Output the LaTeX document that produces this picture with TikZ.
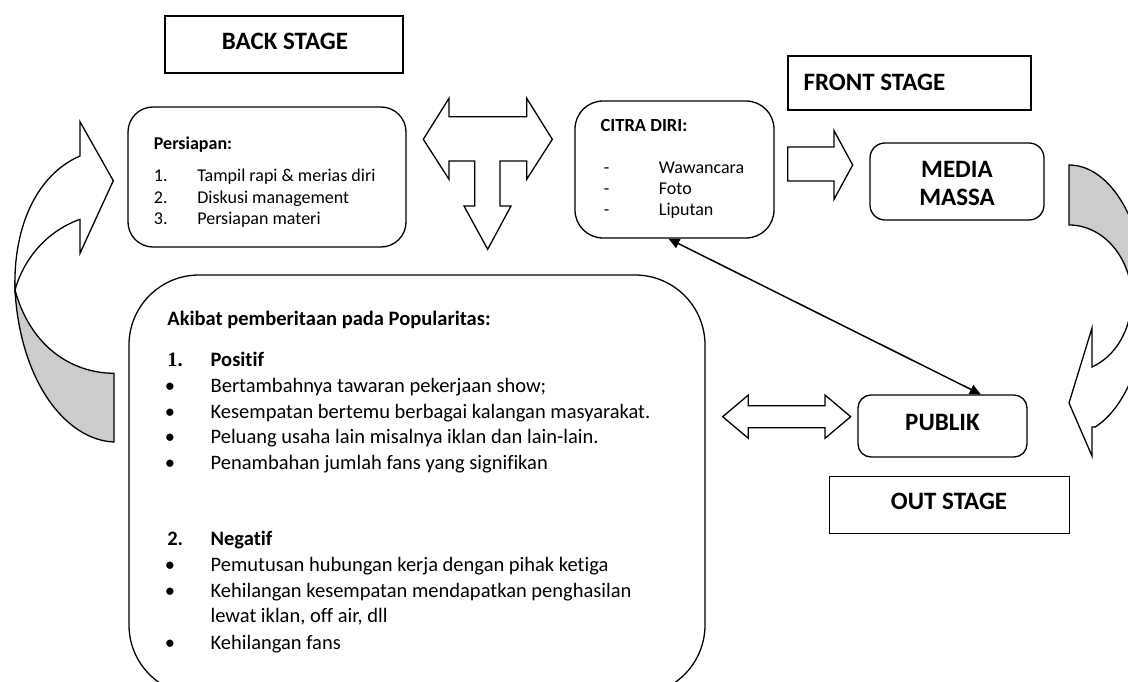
\documentclass[tikz,border=0pt]{standalone}
\usepackage{fontspec}
\setmainfont{Carlito}[Ligatures={NoCommon}]
\newfontfamily\serifnum{Liberation Serif}
\usetikzlibrary{arrows.meta,calc}
\definecolor{bandgray}{RGB}{204,204,204}
\begin{document}
\begin{tikzpicture}[x=1pt,y=1pt,line width=1.3pt,
  box/.style={draw,rectangle,inner sep=0pt,line width=1.3pt},
  rbox/.style={box,rounded corners=#1},
  head/.style={font=\fontsize{25}{30}\selectfont\bfseries,inner sep=0pt},
  small/.style={font=\fontsize{18}{22}\selectfont,inner sep=0pt,anchor=base west},
  big/.style={font=\fontsize{20.5}{25}\selectfont,inner sep=0pt,anchor=base west},
  bul/.style={font=\fontsize{20.5}{25}\selectfont,inner sep=0pt,anchor=base},
  blockarrow/.style={draw,fill=white,line width=1.3pt,line join=miter},
  bandarrow/.style={draw,line width=1.3pt,line join=miter},
  link/.style={{Triangle[length=11pt,width=10pt]}-{Triangle[length=11pt,width=10pt]},line width=1.5pt}]
\useasboundingbox (0,0) rectangle (1128,-682);
\clip (0,0) rectangle (1128,-682);

% ---------- left curved arrow ----------
\path[bandarrow,fill=bandgray] (15,-290) .. controls (20,-380) and (65,-440) .. (114,-442)
  -- (114,-373.3) .. controls (70,-373) and (30,-345) .. (15,-290) -- cycle;
\path[bandarrow,fill=white] (80,-156) .. controls (38,-174) and (13,-225) .. (15,-290)
  .. controls (25,-255) and (50,-230) .. (80,-219.3) -- (80,-253.3) -- (113.3,-180.7)
  -- (80,-121.7) -- cycle;

% ---------- right curved arrow ----------
\path[bandarrow,fill=bandgray] (1069,-165) arc[start angle=90,end angle=0,x radius=77,y radius=135]
  -- ++(-14,0) arc[start angle=0,end angle=90,x radius=63,y radius=75] -- cycle;
\path[bandarrow,fill=white] (1146,-300) arc[start angle=0,end angle=-70,x radius=77,y radius=135]
  -- (1092,-427) -- (1092,-456) -- (1069,-403) -- (1092,-328) -- (1092,-367)
  arc[start angle=-68.5,end angle=0,x radius=62,y radius=72] -- cycle;

% ---------- T-shaped block arrow ----------
\path[blockarrow] (423.3,-139.3) -- (449,-98.3) -- (449,-116.7) -- (526.7,-116.7) -- (526.7,-98.3)
  -- (552.3,-139.3) -- (526.7,-179.3) -- (526.7,-161) -- (500,-161) -- (500,-206) -- (511,-206)
  -- (487.7,-249.3) -- (464,-206) -- (474.7,-206) -- (474.7,-161) -- (449,-161) -- (449,-179.3) -- cycle;

% ---------- right block arrow ----------
\path[blockarrow] (787.7,-147) -- (834,-147) -- (834,-130.7) -- (852.7,-165) -- (834,-199.3)
  -- (834,-181) -- (787.7,-181) -- cycle;

% ---------- left-right block arrow ----------
\path[blockarrow] (722.7,-416.7) -- (748.3,-395) -- (748.3,-405.7) -- (825,-405.7) -- (825,-395)
  -- (850.7,-416.7) -- (825,-438.3) -- (825,-427.7) -- (748.3,-427.7) -- (748.3,-438.3) -- cycle;

% ---------- boxes ----------
\node[box,minimum width=238pt,minimum height=57pt] (back) at (284,-44.5) {};
\node[head,anchor=base] (backt) at (285,-50) {BACK STAGE};

\node[box,minimum width=243pt,minimum height=54pt] (front) at (909.5,-83) {};
\node[head,anchor=base west] (frontt) at (803,-91) {FRONT STAGE};

\node[box,minimum width=240pt,minimum height=57pt] (out) at (949.3,-504.7) {};
\node[head,anchor=base] (outt) at (949,-509.3) {OUT STAGE};

\node[rbox=25pt,minimum width=278pt,minimum height=140pt] (prep) at (267,-177) {};
\node[small,font=\fontsize{18}{22}\selectfont\bfseries] (prep0) at (153.3,-150) {Persiapan:};
\node[small] (prep1n) at (153.3,-181.7) {1.};
\node[small] (prep1) at (196.7,-181.7) {Tampil rapi \& merias diri};
\node[small] (prep2n) at (153.3,-203.3) {2.};
\node[small] (prep2) at (196.7,-203.3) {Diskusi management};
\node[small] (prep3n) at (153.3,-225) {3.};
\node[small] (prep3) at (196.7,-225) {Persiapan materi};

\node[rbox=28pt,minimum width=199pt,minimum height=137pt] (citra) at (674.5,-169.5) {};
\node[small,font=\fontsize{18.5}{22}\selectfont\bfseries] (cit0) at (600,-132) {CITRA DIRI:};
\node[small] (cit1d) at (603.3,-174) {-};
\node[small] (cit1) at (658.3,-174) {Wawancara};
\node[small] (cit2d) at (603.3,-194.5) {-};
\node[small] (cit2) at (658.3,-194.5) {Foto};
\node[small] (cit3d) at (603.3,-215) {-};
\node[small] (cit3) at (658.3,-215) {Liputan};

\node[rbox=15pt,minimum width=174pt,minimum height=77pt] (media) at (957,-181.5) {};
\node[head,anchor=base] (media1) at (957,-178) {MEDIA};
\node[head,anchor=base] (media2) at (957,-205) {MASSA};

\node[rbox=13pt,minimum width=169pt,minimum height=62pt] (publik) at (942.5,-426) {};
\node[head,anchor=base] (publikt) at (942.5,-430) {PUBLIK};

\node[rbox=70pt,minimum width=576pt,minimum height=420pt] (akibat) at (417,-485) {};
\node[big,font=\fontsize{20.5}{25}\selectfont\bfseries] (ak0) at (166.7,-325) {Akibat pemberitaan pada Popularitas:};
\node[big,font=\fontsize{20.5}{25}\selectfont\serifnum\bfseries] (ak1n) at (166.7,-366.7) {1.};
\node[big,font=\fontsize{20.5}{25}\selectfont\bfseries] (ak1) at (210,-366.7) {Positif};
\node[bul] (b1) at (170,-392.5) {•};
\node[big] (t1) at (210,-392.5) {Bertambahnya tawaran pekerjaan show;};
\node[bul] (b2) at (170,-418) {•};
\node[big] (t2) at (210,-418) {Kesempatan bertemu berbagai kalangan masyarakat.};
\node[bul] (b3) at (170,-443.5) {•};
\node[big] (t3) at (210,-443.5) {Peluang usaha lain misalnya iklan dan lain-lain.};
\node[bul] (b4) at (170,-469) {•};
\node[big] (t4) at (210,-469) {Penambahan jumlah fans yang signifikan};
\node[big,font=\fontsize{20.5}{25}\selectfont\bfseries] (ak2n) at (166.7,-545) {2.};
\node[big,font=\fontsize{20.5}{25}\selectfont\bfseries] (ak2) at (210,-545) {Negatif};
\node[bul] (b5) at (170,-571) {•};
\node[big] (t5) at (210,-571) {Pemutusan hubungan kerja dengan pihak ketiga};
\node[bul] (b6) at (170,-597) {•};
\node[big] (t6) at (210,-597) {Kehilangan kesempatan mendapatkan penghasilan};
\node[big] (t6b) at (210,-622) {lewat iklan, off air, dll};
\node[bul] (b7) at (170,-649) {•};
\node[big] (t7) at (210,-649) {Kehilangan fans};

% ---------- connector ----------
\coordinate (cA) at ($(citra.south west)!0.47!(citra.south east)$);
\coordinate (cB) at ($(publik.north west)!0.725!(publik.north east)$);
\draw[link] (cA) -- (cB);
\end{tikzpicture}
\end{document}
